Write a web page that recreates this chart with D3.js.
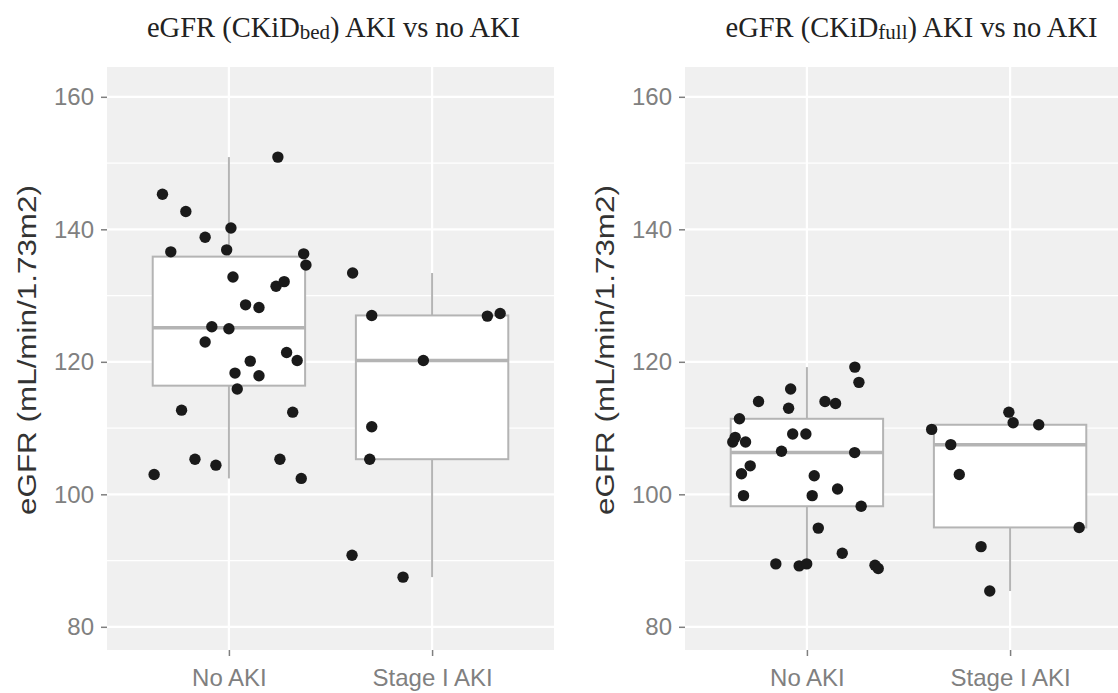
<!DOCTYPE html>
<html>
<head>
<meta charset="utf-8">
<script src="https://cdn.jsdelivr.net/npm/d3@7"></script>
<style>
  body { margin: 0; background: #fff; }
  svg { display: block; }
</style>
</head>
<body>
<svg class="chart"></svg>
<script>
const categories = ["No AKI", "Stage I AKI"];
const yTicks = [80, 100, 120, 140, 160];
const yMinorTicks = [90, 110, 130, 150];

// eGFR CKiD bed, no AKI (values + jitter in category units)
const bedNoAki = [145.3, 142.7, 140.2, 138.8, 136.6, 136.9, 136.3, 134.6, 132.8, 131.4,
  132.1, 128.6, 128.2, 125.3, 125.0, 123.0, 121.4, 120.1, 120.2, 118.3,
  117.9, 115.9, 112.7, 112.4, 105.3, 105.3, 104.4, 103.0, 102.4, 150.9];
const bedNoAkiJitter = [-0.327, -0.212, 0.010, -0.117, -0.286, -0.011, 0.368, 0.379, 0.020, 0.232,
  0.272, 0.082, 0.148, -0.084, 0.000, -0.117, 0.284, 0.105, 0.336, 0.030,
  0.148, 0.041, -0.233, 0.314, -0.167, 0.251, -0.064, -0.368, 0.356, 0.241];

// eGFR CKiD bed, stage I AKI
const bedStage1 = [133.4, 127.0, 126.9, 127.3, 120.2, 110.2, 105.3, 90.8, 87.5];
const bedStage1Jitter = [-0.391, -0.297, 0.272, 0.335, -0.043, -0.297, -0.307, -0.394, -0.143];

// eGFR CKiD full, no AKI
const fullNoAki = [119.2, 116.9, 115.9, 114.0, 114.0, 113.7, 113.0, 111.4, 108.6, 107.9,
  107.9, 109.1, 109.1, 106.5, 106.3, 104.3, 103.1, 102.8, 100.8, 99.8,
  99.8, 98.2, 94.9, 91.1, 89.5, 89.2, 89.5, 89.3, 88.8];
const fullNoAkiJitter = [0.236, 0.256, -0.080, -0.238, 0.089, 0.141, -0.090, -0.332, -0.353, -0.365,
  -0.302, -0.070, -0.005, -0.125, 0.235, -0.279, -0.322, 0.036, 0.151, -0.312,
  0.026, 0.267, 0.056, 0.174, -0.153, -0.038, -0.001, 0.335, 0.351];

// eGFR CKiD full, stage I AKI
const fullStage1 = [112.4, 110.8, 110.5, 109.8, 107.5, 103.0, 95.0, 92.1, 85.4];
const fullStage1Jitter = [-0.006, 0.015, 0.141, -0.386, -0.292, -0.250, 0.340, -0.143, -0.100];

const panels = [
  {sub: "bed", groups: [[bedNoAki, bedNoAkiJitter], [bedStage1, bedStage1Jitter]]},
  {sub: "full", groups: [[fullNoAki, fullNoAkiJitter], [fullStage1, fullStage1Jitter]]}
];

const totalWidth = 1118, totalHeight = 693;
const plotOffset = 578;   // second plot sits to the right of the first
const margin = {top: 67, left: 107};
const width = 447, height = 583;

const svg = d3.select(".chart")
    .attr("width", totalWidth)
    .attr("height", totalHeight);

const x = d3.scalePoint().domain(categories).range([0, width]).padding(0.6);
const y = d3.scaleLinear().domain([76.5, 164.5]).range([height, 0]);

const boxStats = (vals) => {
  const s = vals.slice().sort(d3.ascending);
  const q1 = d3.quantile(s, 0.25), med = d3.quantile(s, 0.5), q3 = d3.quantile(s, 0.75);
  const iqr = q3 - q1;
  const lo = d3.min(s.filter(v => v >= q1 - 1.5 * iqr));
  const hi = d3.max(s.filter(v => v <= q3 + 1.5 * iqr));
  return {q1, med, q3, lo, hi};
};

const boxColor = "#b4b4b4";

panels.forEach((p, pi) => {
  const plot = svg.append("g")
      .attr("transform", "translate(" + (pi * plotOffset) + ",0)");

  // title with subscript
  const title = plot.append("text")
      .attr("x", margin.left + width / 2 + 3)
      .attr("y", 37)
      .attr("text-anchor", "middle")
      .style("font-family", "'Liberation Serif', 'Times New Roman', serif")
      .style("font-size", "28.5px")
      .style("fill", "#222");
  title.append("tspan").text("eGFR (CKiD");
  title.append("tspan").attr("dy", 2).style("font-size", "21px").text(p.sub);
  title.append("tspan").attr("dy", -2).text(") AKI vs no AKI");

  const g = plot.append("g")
      .attr("transform", "translate(" + margin.left + "," + margin.top + ")");

  // panel background
  g.append("rect")
      .attr("width", width)
      .attr("height", height)
      .style("fill", "#f0f0f0");

  // grid lines
  g.selectAll(".minor")
      .data(yMinorTicks)
    .enter().append("line")
      .attr("x1", 0).attr("x2", width)
      .attr("y1", d => y(d)).attr("y2", d => y(d))
      .style("stroke", "#fff").style("stroke-width", 1.2);

  g.selectAll(".major")
      .data(yTicks)
    .enter().append("line")
      .attr("x1", 0).attr("x2", width)
      .attr("y1", d => y(d)).attr("y2", d => y(d))
      .style("stroke", "#fff").style("stroke-width", 2.2);

  g.selectAll(".vgrid")
      .data(categories)
    .enter().append("line")
      .attr("x1", d => x(d)).attr("x2", d => x(d))
      .attr("y1", 0).attr("y2", height)
      .style("stroke", "#fff").style("stroke-width", 2.2);

  // boxplots
  const boxW = 0.75 * x.step();
  p.groups.forEach((grp, gi) => {
    const cx = x(categories[gi]);
    const st = boxStats(grp[0]);
    const b = g.append("g");
    b.append("line")
        .attr("x1", cx).attr("x2", cx)
        .attr("y1", y(st.q3)).attr("y2", y(st.hi))
        .style("stroke", boxColor).style("stroke-width", 2);
    b.append("line")
        .attr("x1", cx).attr("x2", cx)
        .attr("y1", y(st.q1)).attr("y2", y(st.lo))
        .style("stroke", boxColor).style("stroke-width", 2);
    b.append("rect")
        .attr("x", cx - boxW / 2)
        .attr("y", y(st.q3))
        .attr("width", boxW)
        .attr("height", y(st.q1) - y(st.q3))
        .style("fill", "#fff")
        .style("stroke", boxColor)
        .style("stroke-width", 2);
    b.append("line")
        .attr("x1", cx - boxW / 2).attr("x2", cx + boxW / 2)
        .attr("y1", y(st.med)).attr("y2", y(st.med))
        .style("stroke", boxColor).style("stroke-width", 3.5);
  });

  // jittered points
  p.groups.forEach((grp, gi) => {
    const cx = x(categories[gi]);
    g.selectAll(".dot-" + gi)
        .data(grp[0])
      .enter().append("circle")
        .attr("r", 5.7)
        .attr("cx", (d, i) => cx + grp[1][i] * x.step())
        .attr("cy", d => y(d))
        .style("fill", "#1a1a1a");
  });

  // y axis
  const yAxis = g.append("g")
      .call(d3.axisLeft(y).tickValues(yTicks).tickSize(6).tickPadding(7));
  // x axis
  const xAxis = g.append("g")
      .attr("transform", "translate(0," + height + ")")
      .call(d3.axisBottom(x).tickSize(6).tickPadding(13));

  [yAxis, xAxis].forEach(ax => {
    ax.select(".domain").remove();
    ax.selectAll(".tick line").style("stroke", "#7f7f7f").style("stroke-width", 1.5);
    ax.selectAll(".tick text")
        .style("font-family", "'Liberation Sans', Arial, sans-serif")
        .style("font-size", "24px")
        .style("fill", "#808080");
  });

  // y axis title
  plot.append("text")
      .attr("transform", "translate(36," + 350 + ") rotate(-90)")
      .attr("text-anchor", "middle")
      .attr("textLength", 330)
      .attr("lengthAdjust", "spacingAndGlyphs")
      .style("font-family", "'Liberation Sans', Arial, sans-serif")
      .style("font-size", "26px")
      .style("fill", "#333")
      .text("eGFR (mL/min/1.73m2)");
});
</script>
</body>
</html>
